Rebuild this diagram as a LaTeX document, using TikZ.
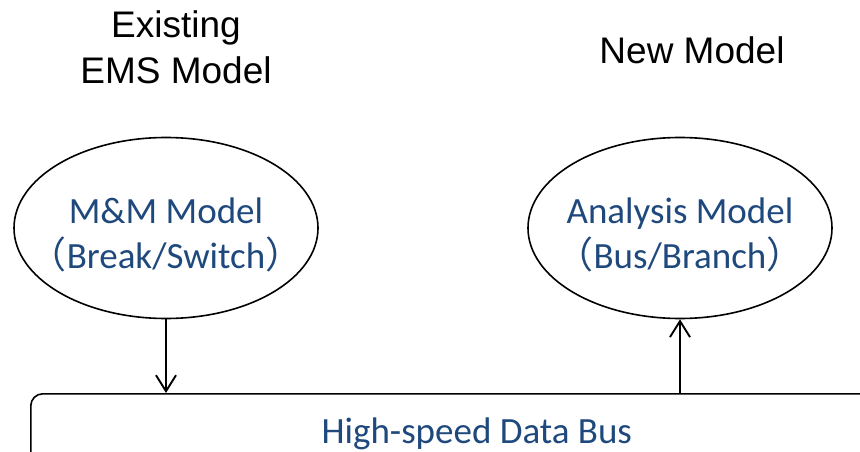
\documentclass[tikz,border=0pt]{standalone}
\usepackage{fontspec}
\setmainfont{Carlito}
\newfontfamily\titlefont{Liberation Sans}
\newfontfamily\cjk{Noto Sans CJK SC}
\usepackage{tikz}
\usetikzlibrary{calc,positioning,arrows.meta,shapes.geometric}
\definecolor{textblue}{RGB}{31,73,125}
\tikzset{
  line/.style={-{Straight Barb[length=16pt,width=20pt]}, line width=1.9pt},
  model/.style={draw, ellipse, line width=1.6pt, inner sep=0pt,
    minimum width=304pt, minimum height=181pt},
  modeltext/.style={align=center, inner sep=0pt, text=textblue,
    font=\fontsize{37pt}{45pt}\selectfont},
  title/.style={align=center, inner sep=0pt, font=\titlefont\fontsize{37pt}{46pt}\selectfont},
  bus/.style={draw, rounded corners=12pt, line width=1.6pt, minimum width=892pt,
    minimum height=100pt, anchor=north west},
  bustext/.style={inner sep=0pt, text=textblue, font=\fontsize{37pt}{45pt}\selectfont}
}

\begin{document}
\begin{tikzpicture}[x=1pt, y=1pt]
  \useasboundingbox (0,0) rectangle (860,451);
  \node[model] (mm) at (166,223) {};
  \node[model] (am) at (680,223) {};
  \node[modeltext] (mmt) at ([yshift=-7pt]mm.center) {M\&M Model\\{\cjk （}Break/Switch{\cjk ）}};
  \node[modeltext] (amt) at ([yshift=-7pt]am.center) {Analysis Model\\{\cjk （}Bus/Branch{\cjk ）}};
  \node[title] (old) at (176,404) {Existing\\EMS Model};
  \node[title] (new) at (692,401) {New Model};
  \node[bus] (bus) at (30,58) {};
  \node[bustext, anchor=base] (bt) at ($(bus.north)+(0,-50)$) {High-speed Data Bus};
  \draw[line] (mm.south) -- (mm.south |- bus.north);
  \draw[line] (am.south |- bus.north) -- (am.south);
\end{tikzpicture}
\end{document}
